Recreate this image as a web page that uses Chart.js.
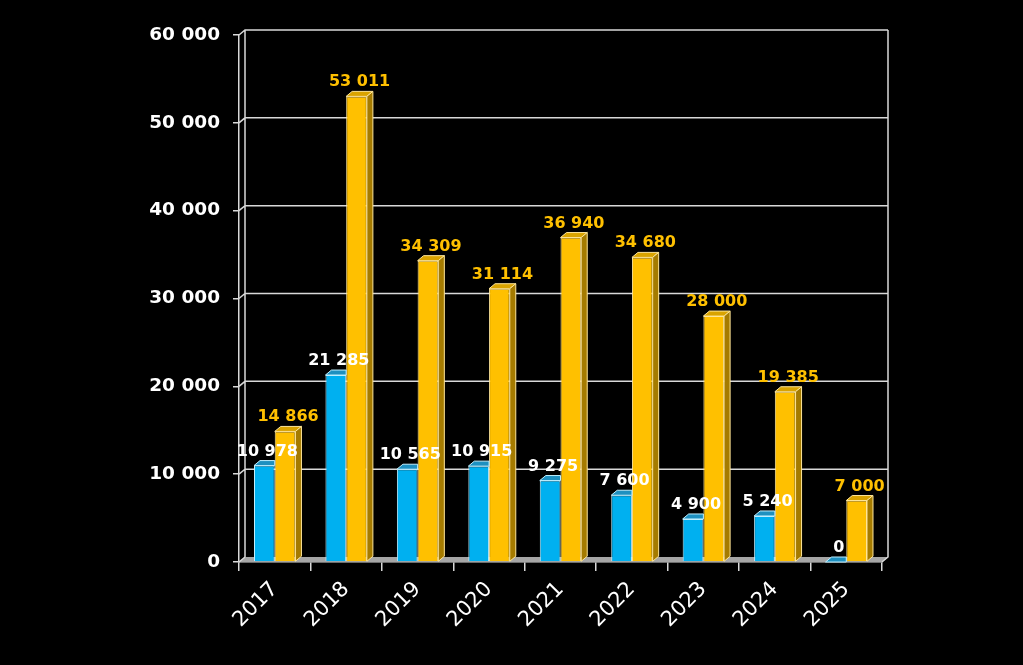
<!DOCTYPE html>
<html><head><meta charset="utf-8">
<script src="https://cdn.jsdelivr.net/npm/chart.js@4/dist/chart.umd.min.js"></script>
<style>html,body{margin:0;padding:0;background:#000;}#wrap{width:1023px;height:665px;}</style>
</head><body><div id="wrap"><canvas id="c" width="1023" height="665"></canvas></div>
<script>
const categories = ['2017','2018','2019','2020','2021','2022','2023','2024','2025'];
const seriesBlue = [10978, 21285, 10565, 10915, 9275, 7600, 4900, 5240, 0];
const seriesGold = [14866, 53011, 34309, 31114, 36940, 34680, 28000, 19385, 7000];
const yTickValues = [0, 10000, 20000, 30000, 40000, 50000, 60000];

const DX = 6, DY = -5;
const fmt = v => String(v).replace(/\B(?=(\d{3})+(?!\d))/g, ' ');
const faces = [
  {top:'#1E90C0', side:'#0A6E96', edge:'#BFEFFF', label:'#FFFFFF'},
  {top:'#D9A300', side:'#A57B00', edge:'#FFE699', label:'#FFC000'}
];

const threeD = {
  id: 'threeD',
  beforeDatasetsDraw(chart) {
    const {ctx, chartArea: a, scales: {y}} = chart;
    ctx.save();
    ctx.fillStyle = '#A6A6A6';
    ctx.beginPath();
    ctx.moveTo(a.left, a.bottom);
    ctx.lineTo(a.right, a.bottom);
    ctx.lineTo(a.right + DX, a.bottom + DY);
    ctx.lineTo(a.left + DX, a.bottom + DY);
    ctx.closePath();
    ctx.fill();
    ctx.strokeStyle = '#D9D9D9';
    ctx.lineWidth = 1.5;
    ctx.beginPath();
    yTickValues.forEach(v => {
      const py = y.getPixelForValue(v);
      ctx.moveTo(a.left, py);
      ctx.lineTo(a.left + DX, py + DY);
      if (v !== 0) ctx.lineTo(a.right + DX, py + DY);
    });
    ctx.moveTo(a.left + DX, a.top + DY);
    ctx.lineTo(a.left + DX, a.bottom + DY);
    ctx.moveTo(a.right + DX, a.top + DY);
    ctx.lineTo(a.right + DX, a.bottom + DY);
    ctx.lineTo(a.right, a.bottom);
    ctx.stroke();
    ctx.restore();
  },
  afterDatasetDraw(chart, args) {
    const {ctx} = chart;
    const f = faces[args.index];
    const front = args.index === 0; // blue series sits in front-left, its right part hidden by the gold bar
    ctx.save();
    ctx.lineWidth = 1;
    args.meta.data.forEach(bar => {
      const {x, y, base, width} = bar.getProps(['x','y','base','width'], true);
      const l = x - width / 2, r = x + width / 2;
      ctx.fillStyle = f.top;
      ctx.strokeStyle = f.edge;
      ctx.beginPath();
      if (front) {
        ctx.moveTo(l, y); ctx.lineTo(r, y); ctx.lineTo(r, y + DY); ctx.lineTo(l + DX, y + DY); ctx.closePath();
        ctx.fill(); ctx.stroke();
        return;
      }
      ctx.moveTo(l, y); ctx.lineTo(r, y); ctx.lineTo(r + DX, y + DY); ctx.lineTo(l + DX, y + DY); ctx.closePath();
      ctx.fill(); ctx.stroke();
      ctx.fillStyle = f.side;
      ctx.beginPath();
      ctx.moveTo(r, y); ctx.lineTo(r + DX, y + DY); ctx.lineTo(r + DX, base + DY); ctx.lineTo(r, base); ctx.closePath();
      ctx.fill(); ctx.stroke();
    });
    ctx.restore();
  },
  afterDatasetsDraw(chart) {
    const {ctx} = chart;
    ctx.save();
    ctx.font = 'bold 16px "DejaVu Sans"';
    ctx.textAlign = 'center';
    ctx.textBaseline = 'alphabetic';
    chart.data.datasets.forEach((ds, i) => {
      const meta = chart.getDatasetMeta(i);
      ctx.fillStyle = faces[i].label;
      meta.data.forEach((bar, j) => {
        ctx.fillText(fmt(ds.data[j]), bar.x + DX / 2, bar.y + DY - 5);
      });
    });
    ctx.restore();
  }
};

new Chart(document.getElementById('c'), {
  type: 'bar',
  data: {
    labels: categories,
    datasets: [
      {data: seriesBlue, backgroundColor: '#00B0F0', borderColor: faces[0].edge, borderWidth: 1,
       barPercentage: 1, categoryPercentage: 0.58},
      {data: seriesGold, backgroundColor: '#FFC000', borderColor: faces[1].edge, borderWidth: 1,
       barPercentage: 1, categoryPercentage: 0.58}
    ]
  },
  options: {
    responsive: false,
    animation: false,
    devicePixelRatio: 1,
    layout: {padding: {top: 35, right: 141, bottom: 0, left: 0}},
    plugins: {legend: {display: false}, tooltip: {enabled: false}},
    scales: {
      x: {
        afterFit(s) { s.height = 103; },
        grid: {display: true, drawOnChartArea: false, tickLength: 9, color: '#D9D9D9', lineWidth: 1.5},
        border: {display: true, color: '#D9D9D9', width: 1.5},
        ticks: {color: '#FFFFFF', font: {family: 'DejaVu Sans', size: 21}, minRotation: 45, maxRotation: 45, padding: 6}
      },
      y: {
        min: 0, max: 60000,
        afterFit(s) { s.width = 239; },
        afterBuildTicks(s) { s.ticks = yTickValues.map(v => ({value: v})); },
        grid: {display: true, drawOnChartArea: false, tickLength: 6, color: '#D9D9D9', lineWidth: 1.5},
        border: {display: true, color: '#D9D9D9', width: 1.5},
        ticks: {color: '#FFFFFF', font: {family: 'DejaVu Sans', size: 18.5, weight: 'bold'}, padding: 13,
                callback: v => fmt(v)}
      }
    }
  },
  plugins: [threeD]
});
</script>
</body></html>
